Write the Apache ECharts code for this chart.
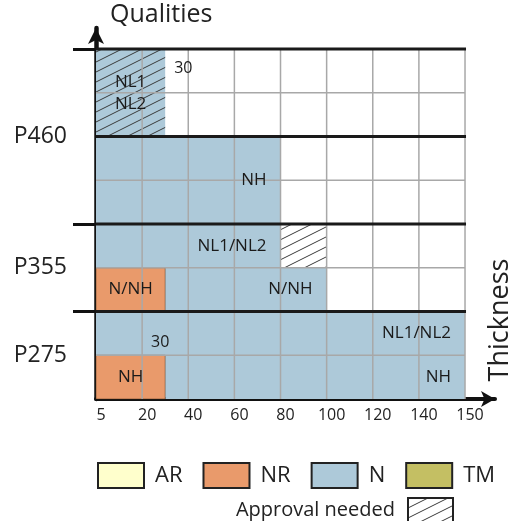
<!DOCTYPE html>
<html><head><meta charset="utf-8">
<script src="https://cdn.jsdelivr.net/npm/echarts@6/dist/echarts.min.js"></script>
<style>html,body{margin:0;padding:0;background:#fff}#c{width:519px;height:521px}</style>
</head><body><div id="c"></div>
<script>
// ---- data ----
const thicknessTicks = [5, 20, 40, 60, 80, 100, 120, 140, 150];
const qualities = ['P275', 'P355', 'P460'];
const qualityRows = [[0, 2], [2, 4], [4, 8]];
const rowCount = 8;
const conditions = ['AR', 'NR', 'N', 'TM'];
const conditionColors = ['#ffffcc', '#e99a6b', '#adc9d9', '#c4bf63'];
const nrBlocks = [
  { rows: [0, 1], t: [5, 30], label: 'NH' },
  { rows: [2, 3], t: [5, 30], label: 'N/NH' }
];
const nBlocks = [
  { rows: [0, 1], t: [30, 150], label: 'NH' },
  { rows: [1, 2], t: [5, 150], label: 'NL1/NL2' },
  { rows: [2, 3], t: [30, 100], label: 'N/NH' },
  { rows: [3, 4], t: [5, 80], label: 'NL1/NL2' },
  { rows: [4, 6], t: [5, 80], label: 'NH' },
  { rows: [6, 8], t: [5, 30], label: '' }
];
const approvalBlocks = [
  { rows: [3, 4], t: [80, 100], label: '' },
  { rows: [6, 8], t: [5, 30], label: 'NL1\nNL2' }
];
const thicknessNotes = ['30', '30'];
const thicknessNoteValues = [30, 30];
const thicknessNoteRows = [7.55, 1.3];

// ---- helpers ----
const FONT = '"Open Sans", "Noto Sans", sans-serif';
function toIdx(t) {
  for (let i = 0; i < thicknessTicks.length - 1; i++) {
    const a = thicknessTicks[i], b = thicknessTicks[i + 1];
    if (t <= b) return i + (t - a) / (b - a);
  }
  return thicknessTicks.length - 1;
}
function blockData(list) { return list.map(b => [toIdx(b.t[0]), toIdx(b.t[1]), b.rows[0], b.rows[1]]); }
function rectRender(fill, stroke) {
  return function (params, api) {
    const p0 = api.coord([api.value(0), api.value(3)]);
    const p1 = api.coord([api.value(1), api.value(2)]);
    return { type: 'rect', shape: { x: p0[0], y: p0[1], width: p1[0] - p0[0], height: p1[1] - p0[1] },
      style: { fill: fill, stroke: stroke || null, lineWidth: stroke ? 1 : 0 } };
  };
}
function makeHatch() {
  const w = 20, h = 10;
  const c = document.createElement('canvas');
  c.width = w; c.height = h;
  const ctx = c.getContext('2d');
  ctx.strokeStyle = '#3a3a3a'; ctx.lineWidth = 1;
  for (let k = -1; k <= 1; k++) {
    ctx.beginPath();
    ctx.moveTo(-2, h + k * h + 2 * h / w);
    ctx.lineTo(w + 2, k * h - 2 * h / w);
    ctx.stroke();
  }
  return { image: c, repeat: 'repeat' };
}
const hatch = makeHatch();
const lastIdx = thicknessTicks.length - 1;

// label items
const labelItems = [];
nrBlocks.forEach(b => { if (b.label) labelItems.push({ b, align: 'center' }); });
nBlocks.forEach(b => { if (b.label) labelItems.push({ b, align: 'right' }); });
approvalBlocks.forEach(b => { if (b.label) labelItems.push({ b, align: 'center' }); });

const chart = echarts.init(document.getElementById('c'), null, { renderer: 'canvas' });
chart.setOption({
  animation: false,
  backgroundColor: '#fff',
  grid: { left: 96, top: 28, width: 399, height: 371, containLabel: false },
  xAxis: {
    type: 'value', min: 0, max: lastIdx + 0.65,
    splitLine: { show: false },
    axisLine: { show: true, lineStyle: { color: '#111', width: 4 }, symbol: ['none', 'arrow'], symbolSize: [12, 14] },
    axisTick: { show: false },
    axisLabel: { customValues: thicknessTicks.map((v, i) => i), formatter: v => String(thicknessTicks[Math.round(v)]),
      fontSize: 16, color: '#222', fontFamily: FONT, margin: 8, padding: [0, 0, 0, 10] }
  },
  yAxis: {
    type: 'value', min: 0, max: rowCount + 0.48,
    splitLine: { show: false },
    axisLine: { show: true, lineStyle: { color: '#111', width: 4.5 }, symbol: ['none', 'arrow'], symbolSize: [12, 16] },
    axisTick: { show: true, customValues: qualityRows.map(r => r[1]), length: 23, lineStyle: { color: '#111', width: 3 } },
    axisLabel: { customValues: qualityRows.map(r => (r[0] + r[1]) / 2),
      formatter: v => { const i = qualityRows.findIndex(r => (r[0] + r[1]) / 2 === v); return qualities[i]; },
      fontSize: 23, color: '#222', fontFamily: FONT, margin: 29 },
    name: 'Qualities', nameLocation: 'end', nameGap: 1,
    nameTextStyle: { fontSize: 25, color: '#222', fontFamily: FONT, align: 'left', verticalAlign: 'bottom', padding: [0, 0, 0, 14] }
  },
  legend: [
    { data: conditions, left: 92, top: 457, itemWidth: 46, itemHeight: 25, itemGap: 20, icon: 'rect', selectedMode: false,
      itemStyle: { borderColor: '#222', borderWidth: 2 },
      textStyle: { fontSize: 22, color: '#222', fontFamily: FONT, padding: [0, 0, 0, 6] } },
    { data: ['Approval needed'], right: 60, top: 492, align: 'right', itemWidth: 45, itemHeight: 25, icon: 'rect', selectedMode: false,
      itemStyle: { borderColor: '#222', borderWidth: 2 },
      textStyle: { fontSize: 20, color: '#222', fontFamily: FONT, padding: [0, 8, 0, 0] } }
  ],
  graphic: [
    { type: 'text', x: 500, y: 320, rotation: Math.PI / 2,
      style: { text: 'Thickness', font: '27px ' + FONT, fill: '#222', align: 'center', verticalAlign: 'middle' } }
  ],
  series: [
    { name: 'AR', type: 'custom', itemStyle: { color: conditionColors[0] }, renderItem: rectRender(conditionColors[0]), data: [] , encode: { x: [0, 1], y: [2, 3] } },
    { name: 'NR', type: 'custom', itemStyle: { color: conditionColors[1] }, renderItem: rectRender(conditionColors[1], 'rgba(60,40,20,0.45)'), data: blockData(nrBlocks), encode: { x: [0, 1], y: [2, 3] }, z: 2 },
    { name: 'N', type: 'custom', itemStyle: { color: conditionColors[2] }, renderItem: rectRender(conditionColors[2]), data: blockData(nBlocks), encode: { x: [0, 1], y: [2, 3] }, z: 1 },
    { name: 'TM', type: 'custom', itemStyle: { color: conditionColors[3] }, renderItem: rectRender(conditionColors[3]), data: [], encode: { x: [0, 1], y: [2, 3] } },
    { name: 'Approval needed', type: 'custom', itemStyle: { color: hatch }, renderItem: rectRender(hatch), data: blockData(approvalBlocks), encode: { x: [0, 1], y: [2, 3] }, z: 3 },
    { name: 'grid', type: 'custom', z: 4, silent: true, data: [[0, 0]],
      renderItem: function (params, api) {
        const children = [];
        for (let i = 1; i <= lastIdx; i++) {
          const a = api.coord([i, 0]), b = api.coord([i, rowCount]);
          children.push({ type: 'line', shape: { x1: a[0], y1: a[1], x2: b[0], y2: b[1] }, style: { stroke: '#a8a8a8', lineWidth: 1.5 } });
        }
        for (let r = 1; r <= rowCount; r++) {
          if (r % 2 === 0) continue;
          const a = api.coord([0, r]), b = api.coord([lastIdx, r]);
          children.push({ type: 'line', shape: { x1: a[0], y1: a[1], x2: b[0], y2: b[1] }, style: { stroke: '#a8a8a8', lineWidth: 1.5 } });
        }
        for (let r = 2; r <= rowCount; r += 2) {
          const a = api.coord([0, r]), b = api.coord([lastIdx, r]);
          children.push({ type: 'line', shape: { x1: a[0], y1: a[1], x2: b[0] + 1, y2: b[1] }, style: { stroke: '#1a1a1a', lineWidth: 3 } });
        }
        return { type: 'group', children };
      } },
    { name: 'labels', type: 'custom', z: 5, silent: true,
      data: labelItems.map(it => [toIdx(it.b.t[0]), toIdx(it.b.t[1]), it.b.rows[0], it.b.rows[1]]),
      encode: { x: [0, 1], y: [2, 3] },
      renderItem: function (params, api) {
        const it = labelItems[params.dataIndex];
        const p0 = api.coord([api.value(0), api.value(3)]);
        const p1 = api.coord([api.value(1), api.value(2)]);
        const x = it.align === 'center' ? (p0[0] + p1[0]) / 2 : p1[0] - 14;
        return { type: 'text', x: x, y: (p0[1] + p1[1]) / 2,
          style: { text: it.b.label, font: '17px ' + FONT, fill: '#1a1a1a', align: it.align, verticalAlign: 'middle', lineHeight: 22 } };
      } },
    { name: 'notes', type: 'custom', z: 5, silent: true,
      data: thicknessNoteValues.map((t, i) => [toIdx(t), thicknessNoteRows[i]]),
      renderItem: function (params, api) {
        const p = api.coord([api.value(0), api.value(1)]);
        const left = params.dataIndex === 0;
        return { type: 'text', x: left ? p[0] + 9 : p[0] - 5, y: p[1],
          style: { text: thicknessNotes[params.dataIndex], font: '16px ' + FONT, fill: '#1a1a1a', align: left ? 'left' : 'center', verticalAlign: 'middle' } };
      } }
  ]
});
</script>
</body></html>
